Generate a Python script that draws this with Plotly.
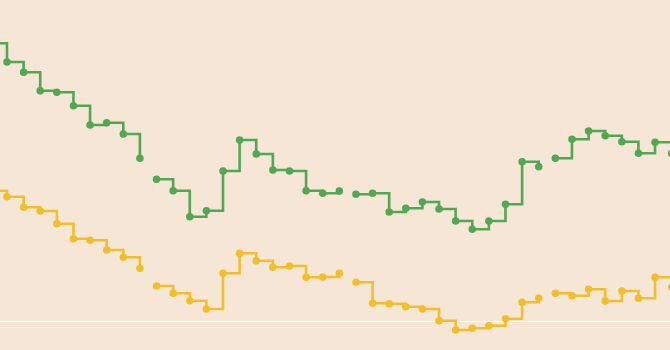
import plotly.graph_objects as go

# Month index of each segment (12 months per year; first year only partly visible)
months_y1 = list(range(2, 12))
months_y2 = list(range(12, 24))
months_y3 = list(range(24, 36))
months_y4 = list(range(36, 44))

green_y1 = [27.84, 25.97, 24.94, 23.10, 22.94, 21.60, 19.67, 19.90, 18.77, 16.34]
green_y2 = [14.24, 13.10, 10.50, 11.10, 15.07, 18.17, 16.77, 15.17, 15.07, 13.10, 12.84, 13.07]
green_y3 = [12.74, 12.84, 10.97, 11.34, 11.97, 11.27, 10.07, 9.24, 10.07, 11.74, 16.00, 15.50]
green_y4 = [16.34, 18.24, 19.07, 18.60, 18.00, 16.84, 17.94, 16.84]

yellow_y1 = [13.10, 12.50, 11.44, 11.07, 9.80, 8.30, 8.14, 7.17, 6.44, 5.34]
yellow_y2 = [3.57, 2.84, 2.10, 1.27, 4.84, 6.84, 6.10, 5.44, 5.57, 4.44, 4.47, 4.84]
yellow_y3 = [3.94, 1.84, 1.80, 1.50, 1.27, 0.10, -0.83, -0.66, -0.40, 0.30, 1.94, 2.37]
yellow_y4 = [2.84, 2.60, 3.24, 2.07, 3.07, 2.34, 4.44, 3.44]

GREEN = "#52a852"
YELLOW = "#f2bf2c"
BG = "#f5e6d6"

fig = go.Figure()
segments = [
    (months_y1, green_y1, yellow_y1),
    (months_y2, green_y2, yellow_y2),
    (months_y3, green_y3, yellow_y3),
    (months_y4, green_y4, yellow_y4),
]
for xs, g, y in segments:
    for vals, col in ((y, YELLOW), (g, GREEN)):
        fig.add_trace(go.Scatter(
            x=xs, y=vals, mode="lines+markers",
            line=dict(color=col, width=2.6, shape="hv"),
            marker=dict(color=col, size=7.5),
            hoverinfo="skip", showlegend=False,
        ))

fig.update_layout(
    width=670, height=350,
    margin=dict(l=0, r=0, t=0, b=0),
    paper_bgcolor=BG, plot_bgcolor=BG,
    showlegend=False,
    xaxis=dict(visible=False, range=[2.58, 42.9]),
    yaxis=dict(range=[-2.83, 32.17], showgrid=False, showticklabels=False,
               zeroline=True, zerolinecolor="rgba(255,255,255,0.85)", zerolinewidth=1,
               showline=False, ticks=""),
)

fig.write_html("out.html")
